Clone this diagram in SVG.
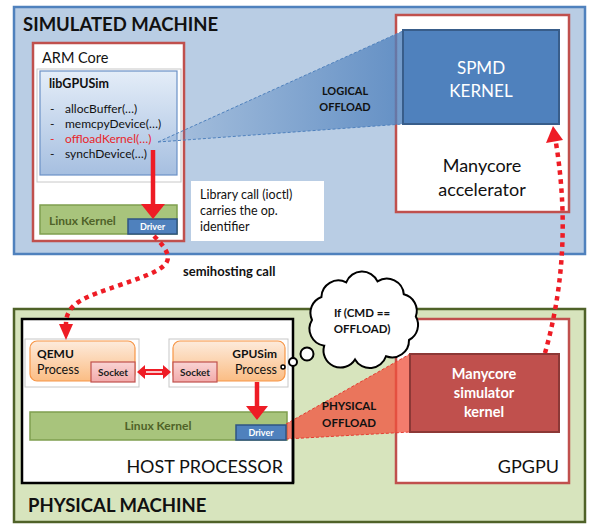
<svg xmlns="http://www.w3.org/2000/svg" width="589" height="524" viewBox="0 0 589 524">
<defs>
<linearGradient id="gLib" x1="0" y1="0" x2="0" y2="1"><stop offset="0" stop-color="#e4edf8"/><stop offset="1" stop-color="#a6bfe0"/></linearGradient>
<linearGradient id="gProc" x1="0" y1="0" x2="0" y2="1"><stop offset="0" stop-color="#fdebdc"/><stop offset="1" stop-color="#fbbd84"/></linearGradient>
<linearGradient id="gSock" x1="0" y1="0" x2="0" y2="1"><stop offset="0" stop-color="#f9d4d4"/><stop offset="1" stop-color="#f2aaaa"/></linearGradient>
<linearGradient id="gLog" x1="0" y1="0" x2="1" y2="0"><stop offset="0" stop-color="#4f81bd" stop-opacity="0.15"/><stop offset="1" stop-color="#4f81bd" stop-opacity="0.8"/></linearGradient>
<style>
text{font-family:Lato,"Liberation Sans",sans-serif;}
.b{font-weight:bold;}
.redbox{fill:#fff;stroke:#c0504d;stroke-width:2.5;}
.green{fill:#a8c47c;stroke:#7f9f4f;stroke-width:1.5;}
.gtxt{fill:#4f6228;font-weight:bold;font-size:12px;}
.drv{fill:#4f81bd;stroke:#2f5483;stroke-width:1.5;}
.drvt{fill:#fff;font-weight:bold;font-size:9px;}
.proc{fill:url(#gProc);stroke:#f79646;stroke-width:1.2;}
.sock{fill:url(#gSock);stroke:#c0504d;stroke-width:1.2;}
.sockt{font-weight:bold;font-size:10px;fill:#222;}
.frame{fill:#fff;stroke:#c8c8c8;stroke-width:1;}
.dot{fill:none;stroke:#ee1c25;stroke-width:4.5;stroke-dasharray:4.5 4.5;}
.arr{stroke:#ee1c25;stroke-width:4.5;fill:none;}
.ah{fill:#ee1c25;}
.item{font-size:12px;fill:#111;}
</style>
</defs>

<g id="simulated-machine">
<rect x="14" y="7" width="571" height="247" fill="#b9cde4" stroke="#4f81bd" stroke-width="2.5"/>
<text x="23" y="31" class="b" font-size="18.5" fill="#111">SIMULATED MACHINE</text>
</g>

<g id="physical-machine">
<rect x="14" y="309" width="571" height="213" fill="#d7e4bd" stroke="#4f6228" stroke-width="2.5"/>
<text x="28" y="512" class="b" font-size="18.5" fill="#111">PHYSICAL MACHINE</text>
</g>

<g id="arm-core">
<rect x="33" y="43" width="151" height="198" class="redbox"/>
<text x="42" y="63" font-size="14.5" fill="#111">ARM Core</text>
</g>

<g id="libgpusim">
<rect x="37" y="69" width="144" height="113" class="frame"/>
<rect x="40" y="71" width="137" height="104" fill="url(#gLib)" stroke="#6c91c6" stroke-width="1.2"/>
<text x="49" y="88" class="b" font-size="12.5" fill="#111">libGPUSim</text>
<text x="50" y="113" class="item">-</text><text x="65" y="113" class="item">allocBuffer(…)</text>
<text x="50" y="128" class="item">-</text><text x="65" y="128" class="item">memcpyDevice(…)</text>
<text x="50" y="143" class="item" style="fill:#e8262b">-</text><text x="65" y="143" class="item" style="fill:#e8262b">offloadKernel(…)</text>
<text x="50" y="158" class="item">-</text><text x="65" y="158" class="item">synchDevice(…)</text>
</g>

<g id="sim-linux-kernel">
<rect x="40" y="205" width="137" height="29" class="green"/>
<text x="49" y="225" class="gtxt">Linux Kernel</text>
</g>
<g id="sim-driver">
<rect x="128" y="219" width="49" height="15" class="drv"/>
<text x="152.5" y="230" text-anchor="middle" class="drvt">Driver</text>
</g>

<g id="library-call-note">
<rect x="191" y="181" width="133" height="60" fill="#fff"/>
<text x="200" y="199" font-size="12.5" fill="#111">Library call (ioctl)</text>
<text x="200" y="215" font-size="12.5" fill="#111">carries the op.</text>
<text x="200" y="231" font-size="12.5" fill="#111">identifier</text>
</g>

<g id="manycore-accelerator">
<rect x="396" y="15" width="173" height="197" class="redbox"/>
<text x="482" y="172" text-anchor="middle" font-size="18" fill="#111">Manycore</text>
<text x="482" y="196" text-anchor="middle" font-size="18" fill="#111">accelerator</text>
</g>

<g id="logical-offload">
<polygon points="158,142 403,31 403,124" fill="url(#gLog)"/>
<line x1="158" y1="142" x2="403" y2="31" stroke="#4f81bd" stroke-width="1" stroke-dasharray="3 2"/>
<line x1="158" y1="142" x2="403" y2="124" stroke="#4f81bd" stroke-width="1" stroke-dasharray="3 2"/>
<text x="345" y="95" text-anchor="middle" class="b" font-size="11" fill="#111">LOGICAL</text>
<text x="345" y="111" text-anchor="middle" class="b" font-size="11" fill="#111">OFFLOAD</text>
</g>

<g id="spmd-kernel">
<rect x="403" y="30" width="156" height="94" fill="#4f81bd" stroke="#385d8a" stroke-width="2"/>
<text x="481" y="74" text-anchor="middle" font-size="17" fill="#fff">SPMD</text>
<text x="481" y="97" text-anchor="middle" font-size="17" fill="#fff">KERNEL</text>
</g>

<g id="host-processor">
<rect x="22" y="319" width="271" height="164" fill="#fff" stroke="#000" stroke-width="2.5"/>
<text x="283" y="473" text-anchor="end" font-size="18" fill="#111">HOST PROCESSOR</text>
</g>

<g id="qemu-process">
<rect x="25" y="339" width="114" height="48" class="frame"/>
<rect x="30" y="341" width="105" height="40" rx="7" class="proc"/>
<text x="37" y="358" class="b" font-size="12" fill="#111">QEMU</text>
<text x="37" y="374" font-size="12.5" fill="#111">Process</text>
<rect x="91" y="362" width="44" height="20" class="sock"/>
<text x="113" y="376" text-anchor="middle" class="sockt">Socket</text>
</g>

<g id="gpusim-process">
<rect x="169" y="339" width="119" height="48" class="frame"/>
<rect x="173" y="341" width="112" height="40" rx="7" class="proc"/>
<text x="277" y="358" text-anchor="end" class="b" font-size="12" fill="#111">GPUSim</text>
<text x="277" y="374" text-anchor="end" font-size="12.5" fill="#111">Process</text>
<rect x="173" y="362" width="44" height="20" class="sock"/>
<text x="195" y="376" text-anchor="middle" class="sockt">Socket</text>
</g>

<g id="host-linux-kernel">
<rect x="30" y="412" width="257" height="28" class="green"/>
<text x="158" y="430" text-anchor="middle" class="gtxt">Linux Kernel</text>
</g>

<g id="gpgpu">
<rect x="396" y="319" width="173" height="164" class="redbox"/>
<text x="559" y="473" text-anchor="end" font-size="18" fill="#111">GPGPU</text>
</g>

<g id="physical-offload">
<polygon points="286,424 410,354 410,432 286,439" fill="#f0503c" fill-opacity="0.75"/>
<line x1="286" y1="424" x2="410" y2="354" stroke="#e63c32" stroke-width="1" stroke-dasharray="3 2"/>
<line x1="286" y1="439" x2="410" y2="432" stroke="#e63c32" stroke-width="1" stroke-dasharray="3 2"/>
<line x1="293" y1="400" x2="293" y2="483" stroke="#000" stroke-width="2.5"/>
<text x="349" y="410" text-anchor="middle" class="b" font-size="11.5" fill="#111">PHYSICAL</text>
<text x="349" y="427" text-anchor="middle" class="b" font-size="11.5" fill="#111">OFFLOAD</text>
</g>

<g id="host-driver">
<rect x="236" y="425" width="50" height="15" class="drv"/>
<text x="261" y="436" text-anchor="middle" class="drvt">Driver</text>
</g>

<g id="manycore-simulator-kernel">
<rect x="410" y="354" width="149" height="78" fill="#c0504d" stroke="#8c3836" stroke-width="2"/>
<text x="484" y="379" text-anchor="middle" class="b" font-size="14.5" fill="#fff">Manycore</text>
<text x="484" y="398" text-anchor="middle" class="b" font-size="14.5" fill="#fff">simulator</text>
<text x="484" y="417" text-anchor="middle" class="b" font-size="14.5" fill="#fff">kernel</text>
</g>

<g id="thought-bubble">
<path d="M312,320 A17,17 0 0 1 321.4,297 A17,17 0 0 1 346.2,282.4 A17,17 0 0 1 377.5,281.4 A17,17 0 0 1 403.8,294.3 A17,17 0 0 1 415.8,316.5 A17,17 0 0 1 409,340 A17,17 0 0 1 386,356.3 A17,17 0 0 1 355,359.4 A17,17 0 0 1 324.2,345.7 A17,17 0 0 1 312,320 Z" fill="#fff" stroke="#000" stroke-width="2"/>
<circle cx="307" cy="354" r="6.5" fill="#fff" stroke="#000" stroke-width="2"/>
<circle cx="293" cy="362" r="4" fill="#fff" stroke="#000" stroke-width="2"/>
<circle cx="283" cy="367" r="2" fill="#fff" stroke="#000" stroke-width="1.5"/>
<text x="362" y="317" text-anchor="middle" class="b" font-size="11.5" fill="#111">If (CMD ==</text>
<text x="362" y="333" text-anchor="middle" class="b" font-size="11.5" fill="#111">OFFLOAD)</text>
</g>

<g id="connectors">
<line x1="153" y1="150" x2="153" y2="206" class="arr"/>
<polygon points="141,204 165,204 153,219" class="ah"/>
<line x1="257" y1="382" x2="257" y2="408" class="arr"/>
<polygon points="246,406 268,406 257,420" class="ah"/>
<polygon points="137,372 145,365 145,369 163,369 163,365 171,372 163,379 163,375 145,375 145,379" fill="#ee1c25"/>
<line x1="146" y1="372" x2="162" y2="372" stroke="#fff" stroke-width="1.5"/>
<path d="M154,236 C180,262 170,268 120,285 C85,297 66,303 66,324" class="dot"/>
<polygon points="59,324 73,324 66,340" class="ah"/>
<path d="M545,353 C560,300 570,230 556,143" class="dot"/>
<polygon points="546,143 563,140 553,126" class="ah"/>
<text x="183" y="276" class="b" font-size="13" fill="#111">semihosting call</text>
</g>
</svg>
